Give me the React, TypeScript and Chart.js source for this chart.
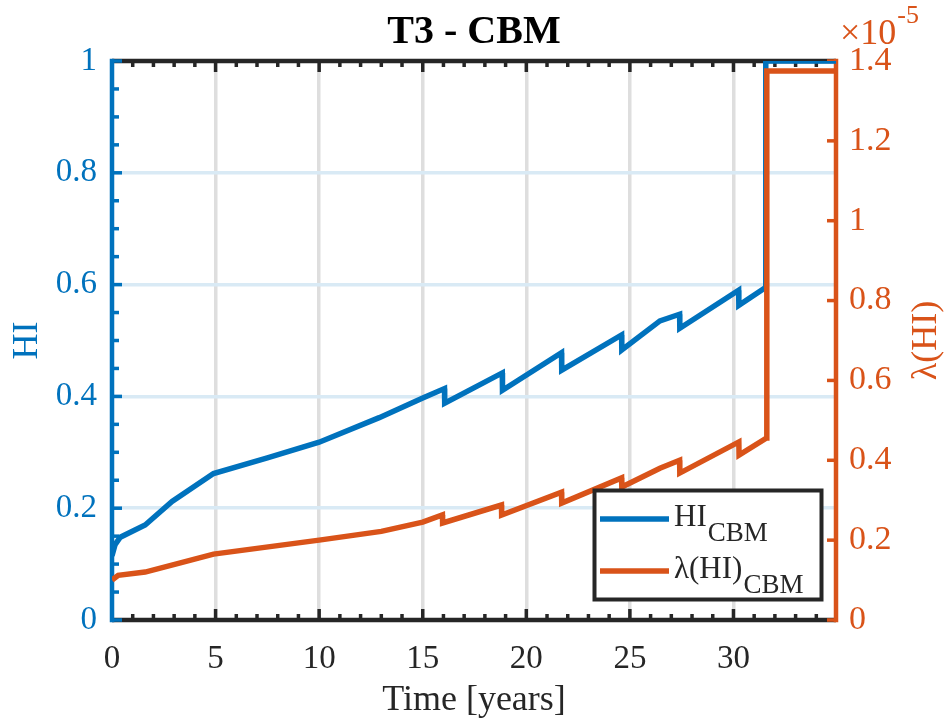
import React, { useEffect, useRef } from "react";
import { Chart, registerables } from "chart.js";

Chart.register(...registerables);

// ---------- data ----------
const X_MAX = 34.95;

// Health index HI_CBM over time [years]
const hiTime = [0, 0.15, 0.4, 1.6, 2.9, 4.9, 7.5, 10, 12.9, 15, 16.05, 16.06, 18.84, 18.85, 21.7, 21.71, 24.6, 24.61, 26.45, 27.4, 27.41, 30.25, 30.26, 31.55, 31.56, 34.95];
const hiValues = [0.115, 0.135, 0.148, 0.17, 0.212, 0.262, 0.29, 0.318, 0.362, 0.397, 0.414, 0.388, 0.442, 0.411, 0.478, 0.447, 0.51, 0.483, 0.535, 0.547, 0.522, 0.59, 0.563, 0.595, 1.0, 1.0];

// lambda(HI)_CBM over time, in units of 1e-5
const lambdaTime = [0, 0.3, 1.6, 3.3, 4.9, 10, 13, 15, 15.95, 15.96, 18.8, 18.81, 21.7, 21.71, 24.6, 24.61, 26.45, 27.4, 27.41, 30.26, 30.27, 31.6, 31.61, 34.95];
const lambdaValues = [0.1, 0.112, 0.12, 0.143, 0.165, 0.2, 0.222, 0.245, 0.263, 0.243, 0.288, 0.263, 0.32, 0.293, 0.356, 0.333, 0.38, 0.4, 0.368, 0.446, 0.413, 0.456, 1.375, 1.375];

const xTickStep = 5;
const hiTickStep = 0.2;
const lambdaTickStep = 0.2;
const LAMBDA_MAX = 1.4;

// ---------- styles ----------
const BLUE = "#0072BD";
const ORANGE = "#D95319";
const AXIS = "#262626";
const GRID_X = "#dedede";
const GRID_Y = "#d9eaf5";
const FONT = "'Liberation Serif', 'Times New Roman', Times, serif";

const decor = {
  id: "decor",
  beforeDatasetsDraw(chart: any) {
    const { ctx, chartArea: a, scales } = chart;
    const sx = scales.x, sy = scales.y, sy1 = scales.y1;
    const line = (x1: number, y1: number, x2: number, y2: number) => {
      ctx.beginPath();
      ctx.moveTo(x1, y1);
      ctx.lineTo(x2, y2);
      ctx.stroke();
    };
    ctx.save();
    ctx.lineCap = "butt";
    // top & bottom axes
    ctx.strokeStyle = AXIS;
    ctx.lineWidth = 4.5;
    line(a.left, a.top, a.right, a.top);
    line(a.left, a.bottom, a.right, a.bottom);
    ctx.lineWidth = 3.5;
    for (let t = 0; t <= Math.floor(X_MAX); t++) {
      const px = sx.getPixelForValue(t);
      const len = t % 5 === 0 ? 11 : 6;
      line(px, a.bottom, px, a.bottom - len);
      line(px, a.top, px, a.top + len);
    }
    // left axis
    ctx.strokeStyle = BLUE;
    ctx.lineWidth = 4.5;
    line(a.left, a.top - 2.2, a.left, a.bottom + 2.2);
    ctx.lineWidth = 3.5;
    for (let k = 0; k <= 20; k++) {
      const py = sy.getPixelForValue(k * 0.05);
      const len = k % 4 === 0 ? 10 : 7;
      line(a.left, py, a.left + len, py);
    }
    // right axis
    ctx.strokeStyle = ORANGE;
    ctx.lineWidth = 4.5;
    line(a.right, a.top - 2.2, a.right, a.bottom + 2.2);
    ctx.lineWidth = 3.5;
    for (let v = 0; v <= LAMBDA_MAX + 1e-9; v += lambdaTickStep) {
      const py = sy1.getPixelForValue(v);
      line(a.right, py, a.right - 9, py);
    }
    ctx.restore();
  },
  afterDraw(chart: any) {
    const { ctx, chartArea: a } = chart;
    ctx.save();
    const cx = (a.left + a.right) / 2;
    const cy = (a.top + a.bottom) / 2;
    // title
    ctx.fillStyle = "#000";
    ctx.font = `bold 40px ${FONT}`;
    ctx.textAlign = "center";
    ctx.textBaseline = "alphabetic";
    ctx.fillText("T3 - CBM", cx, 43);
    // x title
    ctx.fillStyle = AXIS;
    ctx.font = `36px ${FONT}`;
    ctx.fillText("Time [years]", cx, 710);
    // left y title
    ctx.save();
    ctx.fillStyle = BLUE;
    ctx.translate(37, cy);
    ctx.rotate(-Math.PI / 2);
    ctx.fillText("HI", 0, 0);
    ctx.restore();
    // right y title
    ctx.save();
    ctx.fillStyle = ORANGE;
    ctx.translate(936, cy);
    ctx.rotate(-Math.PI / 2);
    ctx.fillText("\u03bb(HI)", 0, 0);
    ctx.restore();
    // exponent
    ctx.fillStyle = ORANGE;
    ctx.textAlign = "left";
    ctx.font = `36px ${FONT}`;
    ctx.fillText("\u00d710", 840, 44);
    const w10 = ctx.measureText("\u00d710").width;
    ctx.font = `26px ${FONT}`;
    ctx.fillText("-5", 840 + w10 + 1, 23);
    // legend
    const lx = 594.5, ly = 490.5, lw = 227, lh = 109;
    ctx.fillStyle = "#fff";
    ctx.fillRect(lx, ly, lw, lh);
    ctx.strokeStyle = AXIS;
    ctx.lineWidth = 4;
    ctx.strokeRect(lx, ly, lw, lh);
    const items = [
      { color: BLUE, main: "HI", y: 519 },
      { color: ORANGE, main: "\u03bb(HI)", y: 571 },
    ];
    for (const it of items) {
      ctx.strokeStyle = it.color;
      ctx.lineWidth = 5.5;
      ctx.beginPath();
      ctx.moveTo(600, it.y);
      ctx.lineTo(669, it.y);
      ctx.stroke();
      ctx.fillStyle = AXIS;
      ctx.font = `31px ${FONT}`;
      ctx.fillText(it.main, 674, it.y + 7);
      const mw = ctx.measureText(it.main).width;
      ctx.font = `27px ${FONT}`;
      ctx.fillText("CBM", 674 + mw + 1, it.y + 22);
    }
    ctx.restore();
  },
};

export default function App() {
  const ref = useRef<HTMLCanvasElement>(null);
  useEffect(() => {
    const hiData = hiTime.map((t, i) => ({ x: t, y: hiValues[i] }));
    const lambdaData = lambdaTime.map((t, i) => ({ x: t, y: lambdaValues[i] }));
    const chart = new Chart(ref.current as HTMLCanvasElement, {
      type: "line",
      data: {
        datasets: [
          {
            label: "HI_CBM",
            data: hiData,
            yAxisID: "y",
            borderColor: BLUE,
            borderWidth: 5.5,
            pointRadius: 0,
            tension: 0,
            borderJoinStyle: "miter",
            order: 1,
          },
          {
            label: "lambda(HI)_CBM",
            data: lambdaData,
            yAxisID: "y1",
            borderColor: ORANGE,
            borderWidth: 5.5,
            pointRadius: 0,
            tension: 0,
            borderJoinStyle: "miter",
            order: 0,
          },
        ],
      },
      options: {
        animation: false,
        responsive: false,
        devicePixelRatio: 1,
        layout: { padding: { top: 61, left: 0, right: 0, bottom: 0 } },
        plugins: {
          legend: { display: false },
          tooltip: { enabled: false },
          title: { display: false },
        },
        scales: {
          x: {
            type: "linear",
            min: 0,
            max: X_MAX,
            afterFit: (s: any) => {
              s.height = 99;
            },
            border: { display: false },
            grid: {
              drawTicks: false,
              lineWidth: 3.5,
              color: (c: any) =>
                c.tick && c.tick.value > 0 ? GRID_X : "rgba(0,0,0,0)",
            },
            ticks: {
              stepSize: xTickStep,
              includeBounds: false,
              maxRotation: 0,
              autoSkip: false,
              padding: 20,
              color: AXIS,
              font: { family: FONT, size: 33 },
              callback: (v: any) => String(Math.round(Number(v))),
            },
          },
          y: {
            type: "linear",
            position: "left",
            min: 0,
            max: 1,
            afterFit: (s: any) => {
              s.width = 112;
            },
            border: { display: false },
            grid: {
              drawTicks: false,
              lineWidth: 3.5,
              color: (c: any) =>
                c.tick && c.tick.value > 0.01 && c.tick.value < 0.99
                  ? GRID_Y
                  : "rgba(0,0,0,0)",
            },
            ticks: {
              stepSize: hiTickStep,
              padding: 15,
              color: BLUE,
              font: { family: FONT, size: 33 },
              callback: (v: any) => String(Number(Number(v).toFixed(1))),
            },
          },
          y1: {
            type: "linear",
            position: "right",
            min: 0,
            max: LAMBDA_MAX,
            afterFit: (s: any) => {
              s.width = 110;
            },
            border: { display: false },
            grid: { display: false, drawTicks: false },
            ticks: {
              stepSize: lambdaTickStep,
              padding: 13,
              color: ORANGE,
              font: { family: FONT, size: 34 },
              callback: (v: any) => String(Number(Number(v).toFixed(1))),
            },
          },
        },
      },
      plugins: [decor],
    } as any);
    return () => chart.destroy();
  }, []);
  return (
    <div style={{ position: "absolute", left: 0, top: 0, width: 946, height: 719 }}>
      <canvas
        ref={ref}
        width={946}
        height={719}
        style={{ display: "block", width: 946, height: 719 }}
      />
    </div>
  );
}
